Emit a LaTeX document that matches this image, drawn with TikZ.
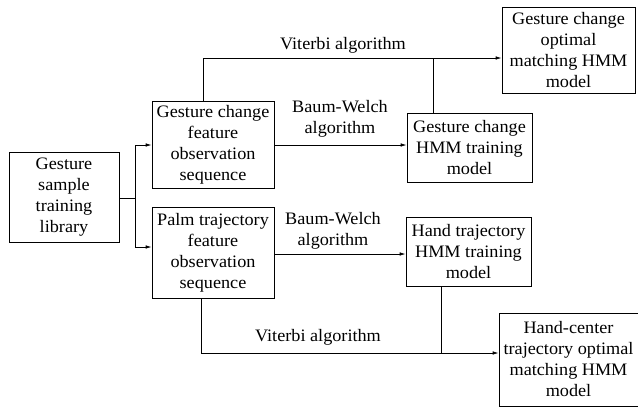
\documentclass[tikz,border=0pt]{standalone}
\usepackage{fontspec}
\setmainfont[FakeStretch=1.04]{Liberation Serif}
\usetikzlibrary{arrows.meta}
\begin{document}
\begin{tikzpicture}[x=1pt,y=-1pt,
  box/.style={draw,line width=0.8pt,align=center,inner sep=0pt,font=\fontsize{17.5}{21}\selectfont},
  lbl/.style={align=center,inner sep=0pt,font=\fontsize{17.5}{21}\selectfont},
  conn/.style={line width=0.8pt},
  arr/.style={line width=0.8pt,-{Latex[length=6pt,width=3.6pt]}}]
\useasboundingbox (0,0) rectangle (638,407);
\node[box,minimum width=110,minimum height=90] (lib) at (64,197) {Gesture\\sample\\training\\library};
\node[box,minimum width=122,minimum height=87] (gcf) at (213,144.5) {Gesture change\\feature\\observation\\sequence};
\node[box,minimum width=125,minimum height=69] (gch) at (469.5,147.5) {Gesture change\\HMM training\\model};
\node[box,minimum width=133,minimum height=86] (gco) at (568.5,50) {Gesture change\\optimal\\matching HMM\\model};
\node[box,minimum width=122,minimum height=91] (palm) at (213,252.5) {Palm trajectory\\feature\\observation\\sequence};
\node[box,minimum width=125,minimum height=69] (hth) at (468.5,251.5) {Hand trajectory\\HMM training\\model};
\node[box,minimum width=139,minimum height=93] (hco) at (568.5,359.5) {Hand-center\\trajectory optimal\\matching HMM\\model};
\node[lbl] (v1) at (343,45) {Viterbi algorithm};
\node[lbl] (b1) at (340,119) {Baum-Welch\\algorithm};
\node[lbl] (b2) at (333,231) {Baum-Welch\\algorithm};
\node[lbl] (v2) at (318,337) {Viterbi algorithm};
\coordinate (br) at (135,198);
\coordinate (brt) at (135,145);
\coordinate (brb) at (135,247);
\coordinate (vt1) at (203,58);
\coordinate (vt2) at (433,58);
\coordinate (vb1) at (201,353);
\coordinate (vb2) at (441,353);
\draw[conn] (lib.east |- br) -- (br);
\draw[conn] (brt) -- (brb);
\draw[arr] (brt) -- (brt -| gcf.west);
\draw[arr] (brb) -- (brb -| palm.west);
\draw[arr] (gcf.east |- brt) -- (brt -| gch.west);
\draw[arr] (palm.east |- 0,254) -- (hth.west |- 0,254);
\draw[conn] (vt1 |- gcf.north) -- (vt1) -- (vt2);
\draw[arr] (vt2) -- (vt2 -| gco.west);
\draw[conn] (vt2 |- gch.north) -- (vt2);
\draw[conn] (vb1 |- palm.south) -- (vb1) -- (vb2);
\draw[arr] (vb2) -- (vb2 -| hco.west);
\draw[conn] (vb2 |- hth.south) -- (vb2);
\end{tikzpicture}
\end{document}
